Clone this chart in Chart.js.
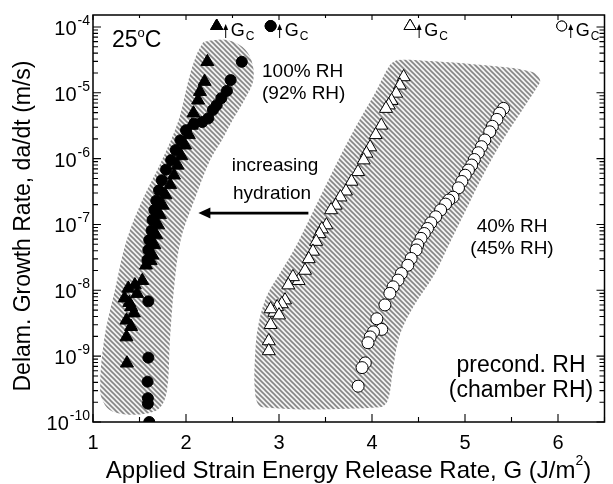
<!DOCTYPE html>
<html><head><meta charset="utf-8">
<script src="https://cdn.jsdelivr.net/npm/chart.js@4/dist/chart.umd.min.js"></script>
<style>html,body{margin:0;padding:0;background:#fff}canvas{display:block}</style>
</head><body>
<canvas id="c" width="613" height="484"></canvas>
<script>
const FONT = '"Liberation Sans", Arial, Helvetica, sans-serif';

// ---- data ----
// 100% RH preconditioned (92% RH chamber), filled triangles
const ftX = [2.23,2.20,2.15,2.13,2.08,2.06,2.03,1.99,1.95,1.91,1.87,1.83,1.78,1.75,1.72,1.70,1.68,1.66,1.64,1.62,1.57,1.53,1.45,1.38,1.475,1.34,1.39,1.41,1.44,1.36,1.41,1.36,1.365];
const ftY = [2.96e-5,1.48e-5,1.04e-5,7.7e-6,4.9e-6,3.2e-6,2.3e-6,1.6e-6,1.1e-6,7.9e-7,5.6e-7,4.0e-7,2.8e-7,1.95e-7,1.4e-7,9.8e-8,6.9e-8,4.9e-8,3.4e-8,2.8e-8,2.4e-8,1.4e-8,1.2e-8,1.07e-8,8.9e-9,7.6e-9,6.5e-9,5.6e-9,4.5e-9,3.5e-9,2.8e-9,1.95e-9,7.8e-10];
// 100% RH preconditioned (92% RH chamber), filled circles
const fcX = [2.60,2.48,2.44,2.38,2.33,2.29,2.24,2.175,2.09,2.00,1.94,1.89,1.84,1.785,1.74,1.71,1.68,1.66,1.64,1.63,1.605,1.595,1.585,1.595,1.595,1.587,1.59,1.59,1.605];
const fcY = [2.96e-5,1.56e-5,1.07e-5,8.3e-6,6.5e-6,5.5e-6,4.1e-6,3.6e-6,3.4e-6,2.7e-6,1.9e-6,1.35e-6,9.5e-7,6.8e-7,4.7e-7,3.3e-7,2.3e-7,1.66e-7,1.17e-7,8.1e-8,5.8e-8,4.1e-8,2.9e-8,6.8e-9,9.5e-10,4.1e-10,2.3e-10,1.9e-10,1.0e-10];
// 40% RH preconditioned (45% RH chamber), open triangles
const otX = [4.34,4.30,4.26,4.21,4.18,4.15,4.10,4.04,3.98,3.94,3.91,3.85,3.78,3.72,3.66,3.61,3.56,3.51,3.46,3.435,3.40,3.365,3.32,3.28,3.21,3.15,3.10,3.065,3.03,2.98,2.95,2.91,3.00,2.91,2.89,2.89];
const otY = [1.74e-5,1.3e-5,9.8e-6,7.6e-6,6.5e-6,5.75e-6,3.2e-6,2.3e-6,1.5e-6,1.2e-6,9.5e-7,6.3e-7,4.5e-7,3.2e-7,2.6e-7,1.95e-7,1.66e-7,9.8e-8,8.5e-8,7.2e-8,5.5e-8,3.9e-8,3.0e-8,2.0e-8,1.4e-8,1.6e-8,1.2e-8,7.1e-9,6.2e-9,5.6e-9,4.6e-9,5.2e-9,4.2e-9,3.0e-9,1.7e-9,1.2e-9];
// 40% RH preconditioned (45% RH chamber), open circles
const ocX = [5.414,5.372,5.343,5.294,5.266,5.213,5.177,5.143,5.100,5.072,5.037,5.002,4.966,4.93,4.871,4.826,4.791,4.738,4.685,4.633,4.597,4.562,4.527,4.491,4.474,4.421,4.385,4.316,4.280,4.227,4.192,4.139,4.052,4.105,4.016,3.981,3.957,3.928,3.893,3.851];
const ocY = [5.8e-6,4.9e-6,3.95e-6,3.1e-6,2.56e-6,1.92e-6,1.52e-6,1.23e-6,9.7e-7,8.0e-7,6.7e-7,5.6e-7,4.5e-7,3.6e-7,2.6e-7,2.35e-7,2.04e-7,1.66e-7,1.31e-7,1.06e-7,8.7e-8,7.3e-8,6.15e-8,4.9e-8,4.1e-8,3.05e-8,2.4e-8,1.8e-8,1.43e-8,1.13e-8,9.0e-9,6.0e-9,3.7e-9,2.55e-9,2.34e-9,1.96e-9,1.6e-9,7.9e-10,6.7e-10,3.5e-10];

// hatched scatter bands (outline, data coordinates)
const bandAX = [2.186,2.112,2.027,1.922,1.742,1.531,1.362,1.235,1.119,1.077,1.130,1.235,1.499,1.711,1.795,1.827,1.869,1.943,2.091,2.260,2.386,2.503,2.629,2.724,2.703,2.608,2.450,2.291,2.186];
const bandAY = [5.9e-5,3.75e-5,1.57e-5,3.9e-6,9.5e-7,2.35e-7,5.8e-8,1.0e-8,1.75e-9,3.0e-10,1.8e-10,1.4e-10,1.3e-10,1.6e-10,3.0e-10,1.75e-9,1.0e-8,5.8e-8,2.35e-7,9.5e-7,1.9e-6,3.9e-6,7.8e-6,1.57e-5,3.15e-5,4.97e-5,6.3e-5,6.3e-5,5.9e-5];
const bandBX = [4.266,4.456,5.301,5.723,5.808,5.776,5.617,5.406,5.195,4.984,4.826,4.667,4.456,4.298,4.224,4.171,4.087,2.820,2.746,2.746,2.788,2.872,3.010,3.189,3.400,3.611,3.822,4.033,4.192,4.266];
const bandBY = [3.15e-5,3.15e-5,2.55e-5,2.07e-5,1.57e-5,1.22e-5,5.5e-6,1.9e-6,5.6e-7,1.39e-7,4.9e-8,1.7e-8,5.96e-9,2.08e-9,6.1e-10,2.14e-10,1.68e-10,1.68e-10,2.55e-10,1.23e-9,3.5e-9,8.45e-9,1.82e-8,4.9e-8,1.97e-7,8.0e-7,3.0e-6,9.9e-6,2.64e-5,3.15e-5];

// axis ticks
const xTickValues = [1,2,3,4,5,6];
const xMinorValues = [1.5,2.5,3.5,4.5,5.5,6.5];
const yTickExponents = [-10,-9,-8,-7,-6,-5,-4];
// G_c marker positions (x values at top of plot)
const gcX = [2.33, 2.91, 4.41, 6.04];

const pts = (xs, ys) => xs.map((x, i) => ({x, y: ys[i]}));

const ctx0 = document.getElementById('c').getContext('2d');
function makeHatch() {
  const s = 5;
  const c = document.createElement('canvas'); c.width = s; c.height = s;
  const g = c.getContext('2d');
  g.fillStyle = '#f2f2f2'; g.fillRect(0, 0, s, s);
  g.strokeStyle = '#858585'; g.lineWidth = 1.6;
  g.beginPath();
  for (const o of [-s, 0, s]) { g.moveTo(o - 1, -1); g.lineTo(o + s + 1, s + 1); }
  g.stroke();
  return ctx0.createPattern(c, 'repeat');
}
const hatch = makeHatch();

const bandDs = (xs, ys) => ({
  data: pts(xs, ys), showLine: true, fill: 'shape', tension: 0.35,
  backgroundColor: hatch, borderColor: 'rgba(0,0,0,0)', borderWidth: 0,
  pointRadius: 0, order: 10
});

const overlay = {
  id: 'overlay',
  afterDraw(chart) {
    const {ctx, chartArea: a, scales: {x, y}} = chart;
    const X = v => x.getPixelForValue(v), Y = v => y.getPixelForValue(v);
    ctx.save();
    // frame
    ctx.strokeStyle = '#000'; ctx.lineWidth = 1.5;
    ctx.strokeRect(a.left, a.top, a.right - a.left, a.bottom - a.top);
    // ticks
    ctx.lineWidth = 1.1;
    ctx.beginPath();
    xTickValues.forEach(v => { const p = X(v); ctx.moveTo(p, a.bottom); ctx.lineTo(p, a.bottom - 8); ctx.moveTo(p, a.top); ctx.lineTo(p, a.top + 5); });
    xMinorValues.forEach(v => { const p = X(v); ctx.moveTo(p, a.bottom); ctx.lineTo(p, a.bottom - 5); ctx.moveTo(p, a.top); ctx.lineTo(p, a.top + 3); });
    yTickExponents.forEach(e => {
      const p = Y(Math.pow(10, e));
      ctx.moveTo(a.left, p); ctx.lineTo(a.left + 8, p); ctx.moveTo(a.right, p); ctx.lineTo(a.right - 8, p);
      for (let m = 2; m <= 9; m++) {
        const v = m * Math.pow(10, e);
        if (v > y.max) continue;
        const q = Y(v);
        ctx.moveTo(a.left, q); ctx.lineTo(a.left + 5, q); ctx.moveTo(a.right, q); ctx.lineTo(a.right - 5, q);
      }
    });
    ctx.stroke();
    // y tick labels 10^e
    ctx.fillStyle = '#000';
    yTickExponents.forEach(e => {
      const p = Y(Math.pow(10, e));
      const exp = String(e);
      ctx.font = '14px ' + FONT; ctx.textAlign = 'right'; ctx.textBaseline = 'alphabetic';
      ctx.fillText(exp, 90, p - 2);
      const w = ctx.measureText(exp).width;
      ctx.font = '20px ' + FONT;
      ctx.fillText('10', 90 - w - 1, p + 8);
    });
    // axis titles
    ctx.font = '24px ' + FONT; ctx.textAlign = 'left';
    const t1 = 'Applied Strain Energy Release Rate, G (J/m';
    const w1 = ctx.measureText(t1).width;
    ctx.font = '14px ' + FONT; const w2 = ctx.measureText('2').width;
    ctx.font = '24px ' + FONT; const w3 = ctx.measureText(')').width;
    let sx = 348.5 - (w1 + w2 + w3) / 2;
    ctx.fillText(t1, sx, 478);
    ctx.font = '14px ' + FONT; ctx.fillText('2', sx + w1, 465);
    ctx.font = '24px ' + FONT; ctx.fillText(')', sx + w1 + w2, 478);
    ctx.save();
    ctx.translate(30, 226); ctx.rotate(-Math.PI / 2);
    ctx.font = '23px ' + FONT; ctx.textAlign = 'center';
    ctx.fillText('Delam. Growth Rate, da/dt (m/s)', 0, 0);
    ctx.restore();
    // 25°C
    ctx.textAlign = 'left';
    ctx.font = '23px ' + FONT; ctx.fillText('25', 112, 47);
    let w25 = ctx.measureText('25').width;
    ctx.font = '13px ' + FONT; ctx.fillText('o', 112 + w25, 37);
    let wo = ctx.measureText('o').width;
    ctx.font = '23px ' + FONT; ctx.fillText('C', 112 + w25 + wo, 47);
    // text annotations
    ctx.font = '19px ' + FONT;
    ctx.textAlign = 'left';
    ctx.fillText('100% RH', 262, 77);
    ctx.fillText('(92% RH)', 262, 99);
    ctx.textAlign = 'center';
    ctx.fillText('increasing', 275, 171);
    ctx.fillText('hydration', 272, 199);
    ctx.fillText('40% RH', 512, 232);
    ctx.fillText('(45% RH)', 512, 254);
    ctx.font = '23px ' + FONT;
    ctx.fillText('precond. RH', 521, 372);
    ctx.fillText('(chamber RH)', 521, 397);
    // hydration arrow
    const ay = Y(1.49e-7), ax1 = X(3.316), ax0 = X(2.133);
    ctx.lineWidth = 2.6; ctx.beginPath(); ctx.moveTo(ax1, ay); ctx.lineTo(ax0 + 8, ay); ctx.stroke();
    ctx.beginPath(); ctx.moveTo(ax0, ay); ctx.lineTo(ax0 + 12, ay - 5.5); ctx.lineTo(ax0 + 12, ay + 5.5); ctx.closePath(); ctx.fill();
    // G_c markers
    const styles = [
      {s: 'triangle', r: 7, f: '#000'}, {s: 'circle', r: 5.5, f: '#000'},
      {s: 'triangle', r: 7, f: '#fff'}, {s: 'circle', r: 5, f: '#fff'}
    ];
    gcX.forEach((v, i) => {
      const cx = X(v), cy = a.top + 11;
      const st = styles[i];
      ctx.fillStyle = st.f; ctx.strokeStyle = '#000'; ctx.lineWidth = 1;
      Chart.helpers.drawPoint(ctx, {pointStyle: st.s, radius: st.r, borderWidth: 1, rotation: 0}, cx, cy);
      ctx.fill(); ctx.stroke();
      ctx.fillStyle = '#000';
      const arx = cx + 9;
      ctx.beginPath(); ctx.moveTo(arx, a.top + 23); ctx.lineTo(arx, a.top + 13); ctx.stroke();
      ctx.beginPath(); ctx.moveTo(arx, a.top + 9); ctx.lineTo(arx - 2.5, a.top + 15); ctx.lineTo(arx + 2.5, a.top + 15); ctx.closePath(); ctx.fill();
      ctx.textAlign = 'left';
      ctx.font = '18px ' + FONT; ctx.fillText('G', cx + 14, a.top + 21);
      const gw = ctx.measureText('G').width;
      ctx.font = '12px ' + FONT; ctx.fillText('C', cx + 14 + gw + 1, a.top + 25);
    });
    ctx.restore();
  }
};

new Chart(ctx0, {
  type: 'scatter',
  data: {
    datasets: [
      {label: '100% RH (92% RH) triangles', data: pts(ftX, ftY), pointStyle: 'triangle', pointRadius: 7.5, backgroundColor: '#000', borderColor: '#000', borderWidth: 1, order: 1},
      {label: '100% RH (92% RH) circles', data: pts(fcX, fcY), pointStyle: 'circle', pointRadius: 5.5, backgroundColor: '#000', borderColor: '#000', borderWidth: 1, order: 2},
      {label: '40% RH (45% RH) triangles', data: pts(otX, otY), pointStyle: 'triangle', pointRadius: 7.5, backgroundColor: '#fff', borderColor: '#000', borderWidth: 1, order: 3},
      {label: '40% RH (45% RH) circles', data: pts(ocX, ocY), pointStyle: 'circle', pointRadius: 6, backgroundColor: '#fff', borderColor: '#000', borderWidth: 1, order: 4},
      Object.assign(bandDs(bandAX, bandAY), {label: 'band 100% RH'}),
      Object.assign(bandDs(bandBX, bandBY), {label: 'band 40% RH'})
    ]
  },
  options: {
    responsive: false, animation: false, events: [],
    layout: {padding: {top: 15, right: 1, left: 0, bottom: 0}},
    plugins: {legend: {display: false}, tooltip: {enabled: false}},
    scales: {
      x: {
        type: 'linear', min: 1, max: 6.5,
        grid: {display: false, drawTicks: false}, border: {display: false},
        afterBuildTicks: s => { s.ticks = xTickValues.map(v => ({value: v})); },
        ticks: {font: {family: FONT, size: 20}, color: '#000', padding: 9, callback: v => String(v), maxRotation: 0},
        afterFit: s => { s.height = 62; }
      },
      y: {
        type: 'logarithmic', min: 1e-10, max: 1.52e-4,
        grid: {display: false, drawTicks: false}, border: {display: false},
        ticks: {display: false},
        afterFit: s => { s.width = 93; }
      }
    }
  },
  plugins: [overlay]
});
</script>
</body></html>
